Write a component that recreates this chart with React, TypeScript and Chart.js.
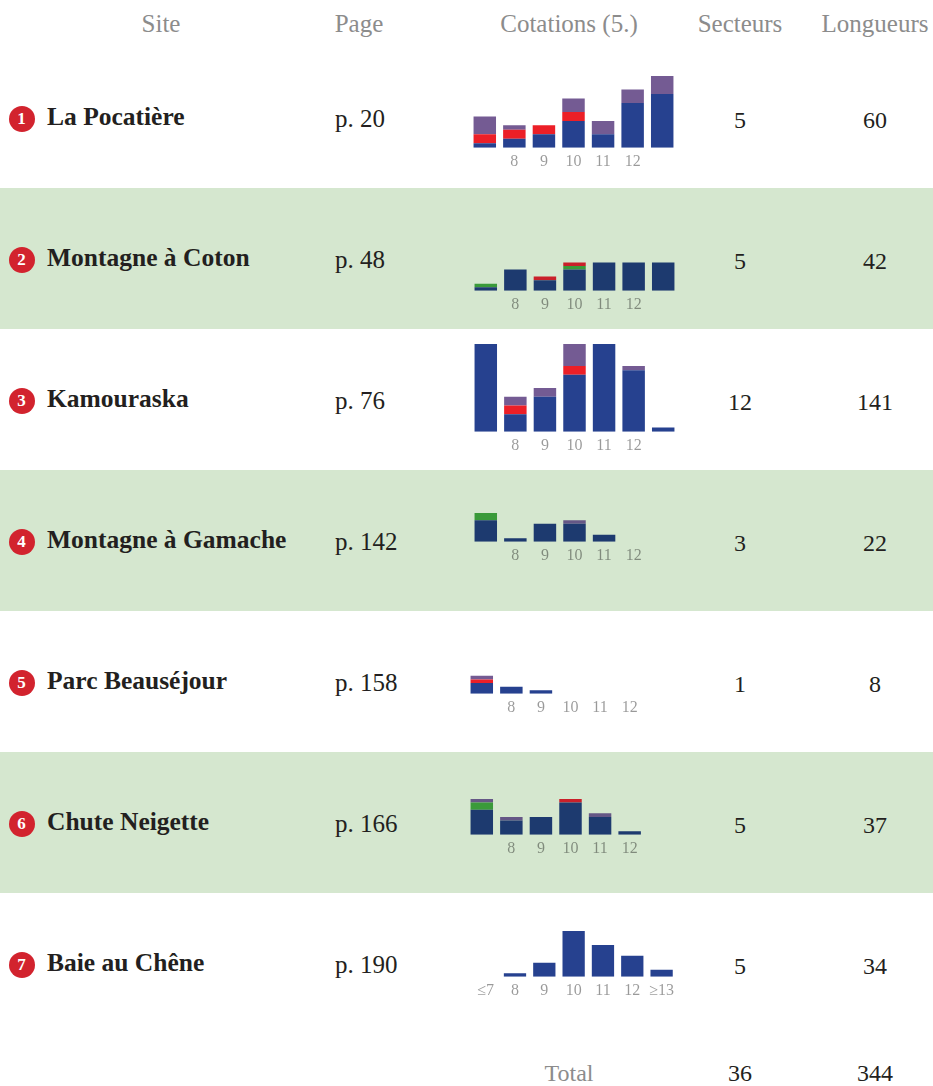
import React, { useEffect, useRef } from "react";
import { Chart, registerables } from "chart.js";

Chart.register(...registerables);

// ---------- DATA ----------
const categories = ["≤7", "8", "9", "10", "11", "12", "≥13"];
const innerTickLabels = ["", "8", "9", "10", "11", "12", ""];
const showEndLabels = [false, false, false, false, false, false, true];

const siteNames = [
  "La Pocatière",
  "Montagne à Coton",
  "Kamouraska",
  "Montagne à Gamache",
  "Parc Beauséjour",
  "Chute Neigette",
  "Baie au Chêne",
];
const pages = ["p. 20", "p. 48", "p. 76", "p. 142", "p. 158", "p. 166", "p. 190"];
const secteurs = [5, 5, 12, 3, 1, 5, 5];
const longueurs = [60, 42, 141, 22, 8, 37, 34];
const totalSecteurs = 36;
const totalLongueurs = 344;

const headers = ["Site", "Page", "Cotations (5.)", "Secteurs", "Longueurs"];
const totalLabel = "Total";

// per row, per category (≤7 .. ≥13), stacked bottom to top: blue, green, red, purple
const blueValues = [
  [1, 2, 3, 6, 3, 10, 12],
  [1, 6, 3, 6, 8, 8, 8],
  [38, 4, 8, 13, 35, 14, 1],
  [6, 1, 5, 5, 2, 0, 0],
  [3, 2, 1, 0, 0, 0, 0],
  [7, 4, 5, 9, 5, 1, 0],
  [0, 1, 4, 13, 9, 6, 2],
];
const greenValues = [
  [0, 0, 0, 0, 0, 0, 0],
  [1, 0, 0, 1, 0, 0, 0],
  [0, 0, 0, 0, 0, 0, 0],
  [2, 0, 0, 0, 0, 0, 0],
  [0, 0, 0, 0, 0, 0, 0],
  [2, 0, 0, 0, 0, 0, 0],
  [0, 0, 0, 0, 0, 0, 0],
];
const redValues = [
  [2, 2, 2, 2, 0, 0, 0],
  [0, 0, 1, 1, 0, 0, 0],
  [0, 2, 0, 2, 0, 0, 0],
  [0, 0, 0, 0, 0, 0, 0],
  [1, 0, 0, 0, 0, 0, 0],
  [0, 0, 0, 1, 0, 0, 0],
  [0, 0, 0, 0, 0, 0, 0],
];
const purpleValues = [
  [4, 1, 0, 3, 3, 3, 4],
  [0, 0, 0, 0, 0, 0, 0],
  [0, 2, 2, 19, 0, 1, 0],
  [0, 0, 0, 1, 0, 0, 0],
  [1, 0, 0, 0, 0, 0, 0],
  [1, 1, 0, 0, 1, 0, 0],
  [0, 0, 0, 0, 0, 0, 0],
];
// visible top of each mini chart (bars above are clipped)
const yMaxByRow = [16, 8, 20, 8, 5, 10, 13];

// ---------- LAYOUT / STYLE ----------
const ROW_TOP = 47;
const ROW_H = 141;
const GREEN_BG = "#d5e7cf";
const SERIF = "'Liberation Serif', 'DejaVu Serif', serif";

const chartLayout = [
  { left: 470, baseline: 147.3, unit: 4.46 },
  { left: 471, baseline: 290.3, unit: 3.46 },
  { left: 471, baseline: 432, unit: 4.35 },
  { left: 471, baseline: 542, unit: 3.5 },
  { left: 466.5, baseline: 693.7, unit: 3.5 },
  { left: 467, baseline: 834.7, unit: 3.5 },
  { left: 471, baseline: 976.3, unit: 3.5 },
];

const paletteWhite = { blue: "#26418f", green: "#3c9a3c", red: "#ec1f27", purple: "#745b93" };
const paletteGreen = { blue: "#1d3a6f", green: "#3a9a3a", red: "#c9202a", purple: "#655786" };

const TICK_SIZE = 16;
const TICK_PAD = 4;
const CHART_W = 207;
const MIN_PLOT_H = 32;

function MiniChart({ row }: { row: number }) {
  const ref = useRef<HTMLCanvasElement>(null);
  const { left, baseline, unit } = chartLayout[row];
  const padTop = 2;
  const visibleH = yMaxByRow[row] * unit;
  const plotH = Math.max(visibleH, MIN_PLOT_H);
  const scaleMax = yMaxByRow[row] * (plotH / visibleH);
  const axisH = TICK_PAD * 2 + TICK_SIZE * 1.2;
  const canvasH = Math.ceil(padTop + plotH + axisH);
  const top = baseline - (canvasH - axisH);
  const isGreen = row % 2 === 1;
  const pal = isGreen ? paletteGreen : paletteWhite;

  useEffect(() => {
    if (!ref.current) return;
    const toData = (arr: number[]) => arr.map((v) => (v === 0 ? null : v));
    const series = [
      { label: "bleu", values: blueValues[row], color: pal.blue },
      { label: "vert", values: greenValues[row], color: pal.green },
      { label: "rouge", values: redValues[row], color: pal.red },
      { label: "violet", values: purpleValues[row], color: pal.purple },
    ];
    const tickLabels = showEndLabels[row] ? categories : innerTickLabels;
    const chart = new Chart(ref.current, {
      type: "bar",
      data: {
        labels: categories,
        datasets: series.map((s) => ({
          label: s.label,
          data: toData(s.values),
          backgroundColor: s.color,
          borderWidth: 0,
          barPercentage: 0.76,
          categoryPercentage: 1,
          clip: 0,
        })),
      },
      options: {
        animation: false,
        responsive: false,
        devicePixelRatio: 1,
        layout: { padding: { top: padTop, left: 0, right: 0, bottom: 0 } },
        plugins: { legend: { display: false }, tooltip: { enabled: false } },
        scales: {
          x: {
            stacked: true,
            grid: { display: false, drawTicks: false, tickLength: 0 },
            border: { display: false },
            ticks: {
              padding: TICK_PAD,
              autoSkip: false,
              maxRotation: 0,
              color: "rgba(0,0,0,0.4)",
              font: { family: SERIF, size: TICK_SIZE },
              callback: (_v: any, i: number) => tickLabels[i],
            },
          },
          y: {
            stacked: true,
            display: false,
            min: 0,
            max: scaleMax,
          },
        },
      },
    } as any);
    return () => chart.destroy();
  }, [row]);

  return (
    <canvas
      ref={ref}
      width={CHART_W}
      height={canvasH}
      style={{ position: "absolute", left, top, width: CHART_W, height: canvasH }}
    />
  );
}

const textBase: React.CSSProperties = {
  position: "absolute",
  fontFamily: SERIF,
  whiteSpace: "nowrap",
  lineHeight: "30px",
  height: 30,
};

function Row({ i }: { i: number }) {
  const top = ROW_TOP + i * ROW_H;
  const mid = top + ROW_H / 2;
  return (
    <>
      <div
        style={{
          position: "absolute",
          left: 0,
          top,
          width: 933,
          height: ROW_H,
          background: i % 2 === 1 ? GREEN_BG : "transparent",
        }}
      />
      <div
        style={{
          position: "absolute",
          left: 8.5,
          top: mid - 11.5,
          width: 26,
          height: 26,
          borderRadius: "50%",
          background: "#d2232e",
          color: "#fff",
          fontFamily: SERIF,
          fontWeight: "bold",
          fontSize: 17,
          lineHeight: "26px",
          textAlign: "center",
        }}
      >
        {i + 1}
      </div>
      <div style={{ ...textBase, left: 47, top: mid - 16, fontSize: 25.5, fontWeight: "bold", color: "#231f20" }}>
        {siteNames[i]}
      </div>
      <div style={{ ...textBase, left: 335, top: mid - 14, fontSize: 25, color: "#231f20" }}>{pages[i]}</div>
      <div style={{ ...textBase, left: 690, width: 100, textAlign: "center", top: mid - 13, fontSize: 24, color: "#231f20" }}>
        {secteurs[i]}
      </div>
      <div style={{ ...textBase, left: 825, width: 100, textAlign: "center", top: mid - 13, fontSize: 24, color: "#231f20" }}>
        {longueurs[i]}
      </div>
      <MiniChart row={i} />
    </>
  );
}

export default function App() {
  const headerCenters = [161, 359, 569, 740, 875];
  return (
    <div
      style={{
        position: "absolute",
        left: 0,
        top: 0,
        width: 933,
        height: 1086,
        overflow: "hidden",
        background: "#fff",
      }}
    >
      {headers.map((h, k) => (
        <div
          key={h}
          style={{
            ...textBase,
            left: headerCenters[k] - 100,
            width: 200,
            textAlign: "center",
            top: 9,
            fontSize: 25,
            color: "#8c8c8c",
          }}
        >
          {h}
        </div>
      ))}
      {siteNames.map((_, i) => (
        <Row key={i} i={i} />
      ))}
      <div style={{ ...textBase, left: 469, width: 200, textAlign: "center", top: 1058, fontSize: 24, color: "#8c8c8c" }}>
        {totalLabel}
      </div>
      <div style={{ ...textBase, left: 690, width: 100, textAlign: "center", top: 1058, fontSize: 24, color: "#231f20" }}>
        {totalSecteurs}
      </div>
      <div style={{ ...textBase, left: 825, width: 100, textAlign: "center", top: 1058, fontSize: 24, color: "#231f20" }}>
        {totalLongueurs}
      </div>
    </div>
  );
}
